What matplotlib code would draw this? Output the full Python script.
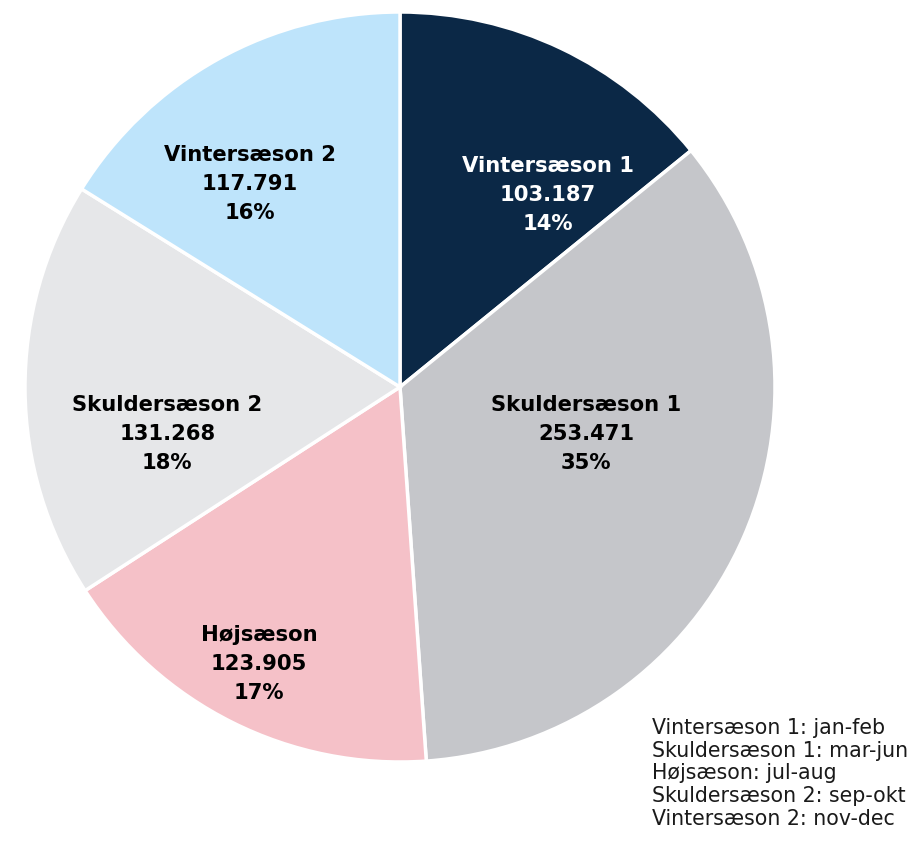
import matplotlib
matplotlib.use("Agg")
import matplotlib.pyplot as plt

categories = ["Vintersæson 1", "Skuldersæson 1", "Højsæson", "Skuldersæson 2", "Vintersæson 2"]
values = [103187, 253471, 123905, 131268, 117791]
colors = ["#0b2846", "#c5c6ca", "#f5c1c8", "#e6e7e9", "#bee4fb"]
text_colors = ["white", "black", "black", "black", "black"]
value_labels = ["103.187", "253.471", "123.905", "131.268", "117.791"]
legend_lines = ["Vintersæson 1: jan-feb", "Skuldersæson 1: mar-jun", "Højsæson: jul-aug",
                "Skuldersæson 2: sep-okt", "Vintersæson 2: nov-dec"]
# label centres in axis data units (layout)
label_pos = [(0.395, 0.512), (0.496, -0.125), (-0.376, -0.739), (-0.621, -0.125), (-0.40, 0.541)]

plt.rcParams['font.family'] = ['DejaVu Sans']
W, H = 918, 842
fig = plt.figure(figsize=(W / 100, H / 100), dpi=100)
cx, cy, r = 400, 387, 375
ax = fig.add_axes([(cx - r) / W, (H - cy - r) / H, 2 * r / W, 2 * r / H])
ax.pie(values, colors=colors, startangle=90, counterclock=False, radius=1,
       wedgeprops=dict(edgecolor="white", linewidth=2.5))
ax.set_xlim(-1, 1)
ax.set_ylim(-1, 1)
ax.set_aspect("equal")
ax.axis("off")

total = sum(values)
for cat, v, vl, tc, (x, y) in zip(categories, values, value_labels, text_colors, label_pos):
    pct = f"{round(100 * v / total)}%"
    ax.text(x, y, f"{cat}\n{vl}\n{pct}", ha="center", va="center", color=tc,
            fontsize=15.2, fontweight="bold", linespacing=1.54)

fig.text(652 / W, 1 - 718 / H, "\n".join(legend_lines), ha="left", va="top",
         fontsize=14.8, color="#1a1a1a", linespacing=1.17)

fig.savefig("out.png", dpi=100, facecolor="white")
